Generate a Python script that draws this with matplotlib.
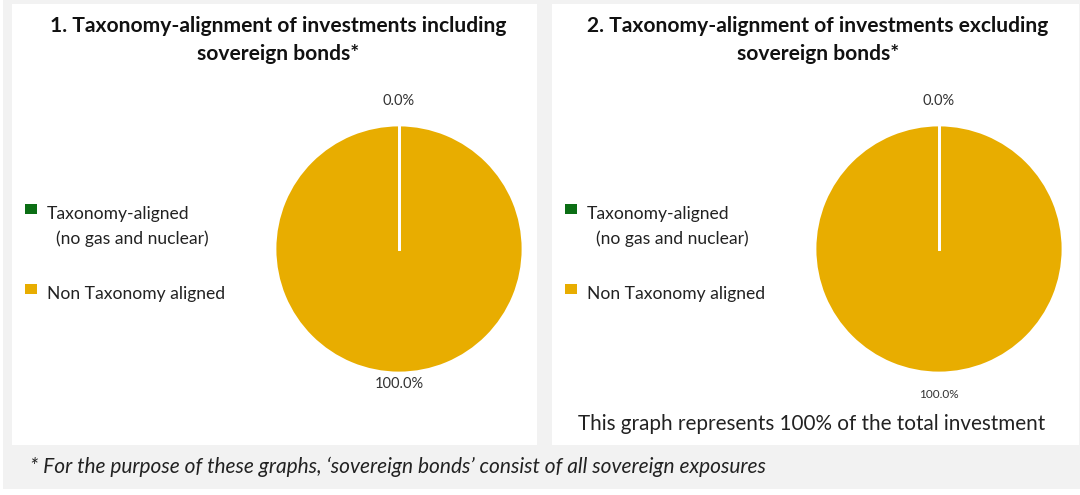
import matplotlib.pyplot as plt
import numpy as np
from matplotlib.patches import Rectangle

plt.rcParams['font.family'] = ['Lato', 'DejaVu Sans']

# data
categories = ['Taxonomy-aligned\n  (no gas and nuclear)', 'Non Taxonomy aligned']
values_incl = [0.0, 100.0]
values_excl = [0.0, 100.0]
titles = ['1. Taxonomy-alignment of investments including\nsovereign bonds*',
          '2. Taxonomy-alignment of investments excluding\nsovereign bonds*']
colors = ['#0b6e14', '#e8ad00']
footnote = '* For the purpose of these graphs, \u2018sovereign bonds\u2019 consist of all sovereign exposures'
note = 'This graph represents 100% of the total investment'

W, H = 1080, 495
fig = plt.figure(figsize=(W / 100, H / 100), dpi=100)
fig.patch.set_facecolor('white')


def px(x, y, w, h):
    # pixel box (top-left origin) to figure fraction
    return [x / W, 1 - (y + h) / H, w / W, h / H]


def add_box(x, y, w, h, color, z=-5):
    b = px(x, y, w, h)
    fig.patches.append(Rectangle((b[0], b[1]), b[2], b[3], transform=fig.transFigure,
                                 facecolor=color, edgecolor='none', zorder=z))


add_box(3, 0, 1077, 489, '#f2f2f2', -6)
add_box(12, 4, 525, 441, 'white')
add_box(552, 4, 527, 441, 'white')

panels = [(12, values_incl, titles[0], [1.19, 1.09], 10.5),
          (552, values_excl, titles[1], [1.19, 1.17], 8.5)]

for i, (x0, vals, title, dists, pct_size) in enumerate(panels):
    cx = x0 + 387
    r = 124
    ax = fig.add_axes(px(cx - r, 249 - r, 2 * r, 2 * r))
    ax.set_zorder(2)
    wedges, _ = ax.pie(vals, colors=colors, startangle=90, counterclock=False,
                       wedgeprops=dict(edgecolor='white', linewidth=2))
    ax.set_xlim(-1, 1)
    ax.set_ylim(-1, 1)
    ax.set_aspect('equal')
    ax.axis('off')

    # percentage labels at each wedge's mid angle, white slice borders
    total = sum(vals)
    start = 90.0
    for v, d in zip(vals, dists):
        sweep = 360.0 * v / total
        a0 = np.deg2rad(start)
        ax.plot([0, np.cos(a0)], [0, np.sin(a0)], color='white', lw=2, zorder=5)
        mid = np.deg2rad(start - sweep / 2)
        ax.text(d * np.cos(mid), d * np.sin(mid), f'{v:.1f}%', ha='center', va='center',
                fontsize=pct_size if v > 50 else 10.5, color='#333333', clip_on=False)
        start -= sweep

    fig.text((x0 + 266) / W, 1 - 40 / H, title, ha='center', va='center',
             fontsize=15.1, fontweight='bold', color='#111111', linespacing=1.5)

    # legend drawn by hand so the marker sits on the first line of the label
    for lab, c, ty in zip(categories, colors, [213, 293]):
        b = px(x0 + 13, ty - 9, 12, 10)
        fig.patches.append(Rectangle((b[0], b[1]), b[2], b[3], transform=fig.transFigure,
                                     facecolor=c, edgecolor='none', zorder=3))
        fig.text((x0 + 35) / W, 1 - (ty - 7) / H, lab, ha='left', va='top',
                 fontsize=12.6, color='#222222', linespacing=1.6)

fig.text((552 + 260) / W, 1 - 424 / H, note, ha='center', va='center',
         fontsize=14.9, color='#222222')
fig.text(30 / W, 1 - 467 / H, footnote, ha='left', va='center',
         fontsize=15, style='italic', color='#222222')

fig.savefig('out.png', dpi=100, facecolor=fig.get_facecolor())
